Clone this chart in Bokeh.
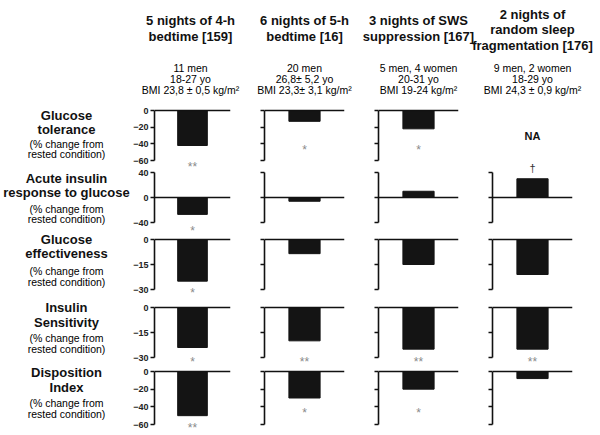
from bokeh.plotting import figure
from bokeh.models import Range1d, FactorRange, Span, FixedTicker
from bokeh.layouts import row, column
from bokeh.embed import file_html
from bokeh.resources import INLINE
from bokeh.core.properties import value

# ---------------- data ----------------
study_titles = [
    ["5 nights of 4-h", "bedtime [159]"],
    ["6 nights of 5-h", "bedtime [16]"],
    ["3 nights of SWS", "suppression [167]"],
    ["2 nights of", "random sleep", "fragmentation [176]"],
]
study_subjects = [
    ["11 men", "18-27 yo", "BMI 23,8 ± 0,5 kg/m²"],
    ["20 men", "26,8± 5,2 yo", "BMI 23,3± 3,1 kg/m²"],
    ["5 men, 4 women", "20-31 yo", "BMI 19-24 kg/m²"],
    ["9 men, 2 women", "18-29 yo", "BMI 24,3 ± 0,9 kg/m²"],
]
outcome_names = [
    ["Glucose", "tolerance"],
    ["Acute insulin", "response to glucose"],
    ["Glucose", "effectiveness"],
    ["Insulin", "Sensitivity"],
    ["Disposition", "Index"],
]
unit_note = ["(% change from", "rested condition)"]

# % change from rested condition (None = not available)
glucose_tolerance = [-42, -13, -22, None]
acute_insulin_response = [-27, -6, 10, 30]
glucose_effectiveness = [-25, -8.5, -15, -21]
insulin_sensitivity = [-24, -20, -25, -25]
disposition_index = [-50, -30, -20, -8]

# significance marks and where they sit (in each panel's % units)
sig_glucose_tolerance = ["**", "*", "*", ""]
sig_acute_insulin = ["*", "", "", "†"]
sig_glucose_effectiveness = ["*", "", "", ""]
sig_insulin_sensitivity = ["*", "**", "**", "**"]
sig_disposition_index = ["**", "*", "*", ""]

mark_glucose_tolerance = [-64, -44, -44, None]
mark_acute_insulin = [-48, None, None, 48]
mark_glucose_effectiveness = [-30, None, None, None]
mark_insulin_sensitivity = [-30.6, -30.6, -30.6, -30.6]
mark_disposition_index = [-61, -44, -44, None]

# y-axis ticks per outcome
ticks_glucose_tolerance = [0, -20, -40, -60]
ticks_acute_insulin = [40, 0, -40]
ticks_glucose_effectiveness = [0, -15, -30]
ticks_insulin_sensitivity = [0, -15, -30]
ticks_disposition_index = [0, -20, -40, -60]

values = [glucose_tolerance, acute_insulin_response, glucose_effectiveness,
          insulin_sensitivity, disposition_index]
sigs = [sig_glucose_tolerance, sig_acute_insulin, sig_glucose_effectiveness,
        sig_insulin_sensitivity, sig_disposition_index]
marks = [mark_glucose_tolerance, mark_acute_insulin, mark_glucose_effectiveness,
         mark_insulin_sensitivity, mark_disposition_index]
ticks = [ticks_glucose_tolerance, ticks_acute_insulin, ticks_glucose_effectiveness,
         ticks_insulin_sensitivity, ticks_disposition_index]

# ---------------- layout (pixels) ----------------
FONT = value("Liberation Sans")
LABEL_W = 130
BORDER_L = [20, 24, 24, 24]
BORDER_R = 10
FRAME_W = 80
TOP = 102          # header height / top of the panel grid
HEADER_W = 600
bounds = [102, 168, 232, 300, 364, 435]
EXT = 10           # panels overlap their neighbours by 2*EXT (transparent canvases)
axis_top = [110, 172, 239, 307, 371]
axis_bot = [160, 222, 289, 357, 424]
label_y = [[115, 129, 143, 153], [178, 192, 208, 218], [239, 253, 270, 281],
           [307, 322, 337, 348], [372, 387, 402, 413]]
LABEL_X = 66

col_w = [BORDER_L[c] + FRAME_W + BORDER_R for c in range(4)]
centers = []
acc = LABEL_W
for c in range(4):
    centers.append(acc + BORDER_L[c] + FRAME_W / 2)
    acc += col_w[c]


def blank(width, height, y0, y1, x1):
    f = figure(width=width, height=height, x_range=Range1d(0, x1), y_range=Range1d(y0, y1),
               output_backend="svg", toolbar_location=None,
               x_axis_location=None, y_axis_location=None,
               min_border_left=0, min_border_right=0, min_border_top=0, min_border_bottom=0)
    f.grid.visible = False
    f.outline_line_color = None
    f.background_fill_color = "white"
    f.border_fill_color = "white"
    return f


# header
header = blank(HEADER_W, TOP, TOP, 0, HEADER_W)
for c in range(4):
    lines = study_titles[c]
    ys = [20, 35.5] if len(lines) == 2 else [13.5, 29, 44.5]
    header.text(x=[centers[c]] * len(lines), y=ys, text=lines, text_font=FONT,
                text_font_size="13px", text_font_style="bold", text_color="#111111",
                text_align="center", text_baseline="middle")
    header.text(x=[centers[c]] * 3, y=[67, 78, 89], text=study_subjects[c], text_font=FONT,
                text_font_size="10.5px", text_color="#000000",
                text_align="center", text_baseline="middle")

# row labels
LAB_H = bounds[-1] - TOP
labels = blank(LABEL_W, LAB_H, LAB_H, 0, LABEL_W)
for r in range(5):
    ys = [y - TOP for y in label_y[r]]
    labels.text(x=[LABEL_X, LABEL_X], y=ys[:2], text=outcome_names[r], text_font=FONT,
                text_font_size="13px", text_font_style="bold", text_color="#111111",
                text_align="center", text_baseline="middle")
    labels.text(x=[LABEL_X, LABEL_X], y=ys[2:], text=unit_note, text_font=FONT,
                text_font_size="10.5px", text_color="#000000",
                text_align="center", text_baseline="middle")

# panels
stacks = []
for c in range(4):
    study = " ".join(study_titles[c])
    figs = []
    for r in range(5):
        top = bounds[r] - (EXT if r > 0 else 0)
        bot = bounds[r + 1] + (EXT if r < 4 else 0)
        amin, amax = min(ticks[r]), max(ticks[r])
        s = (axis_bot[r] - axis_top[r]) / (amax - amin)
        y_lo = amin - (bot - axis_bot[r]) / s
        y_hi = amax + (axis_top[r] - top) / s
        v = values[r][c]
        p = figure(width=col_w[c], height=bot - top, x_range=FactorRange(factors=[study]),
                   y_range=Range1d(y_lo, y_hi), output_backend="svg", toolbar_location=None,
                   x_axis_location=None, y_axis_location="left" if v is not None else None,
                   min_border_left=BORDER_L[c], min_border_right=BORDER_R,
                   min_border_top=0, min_border_bottom=0,
                   margin=(-2 * EXT if r > 0 else 0, 0, 0, 0))
        p.grid.visible = False
        p.outline_line_color = None
        p.background_fill_color = None
        p.border_fill_color = None
        if v is None:
            p.text(x=[study], y=[(amin + amax) / 2], text=["NA"], text_font=FONT,
                   text_font_size="11px", text_font_style="bold", text_color="#111111",
                   text_align="center", text_baseline="middle")
        else:
            ax = p.yaxis[0]
            ax.ticker = FixedTicker(ticks=ticks[r])
            ax.bounds = (amin, amax)
            ax.axis_line_width = 1.6
            ax.axis_line_color = "#111111"
            ax.major_tick_line_width = 1.4
            ax.major_tick_line_color = "#111111"
            ax.major_tick_in = 0
            ax.major_tick_out = 4
            ax.minor_tick_line_color = None
            ax.major_label_standoff = 2
            ax.major_label_text_font = "Liberation Sans"
            ax.major_label_text_font_style = "bold"
            ax.major_label_text_font_size = "9px"
            ax.major_label_text_color = "#222222" if c == 0 else None
            p.add_layout(Span(location=0, dimension="width", line_color="#111111", line_width=1.6))
            p.vbar(x=[study], top=[v], bottom=0, width=0.39,
                   fill_color="#141414", line_color="#141414")
        sg, mk = sigs[r][c], marks[r][c]
        if sg and mk is not None:
            if sg == "†":
                p.text(x=[study], y=[mk], text=[sg], text_font=FONT, text_font_size="11px",
                       text_color="#333333", text_align="center", text_baseline="middle")
            else:
                p.text(x=[study], y=[mk], text=[sg], text_font=FONT, text_font_size="12px",
                       text_color="#8a8a8a", text_align="center", text_baseline="middle",
                       y_offset=3)
        figs.append(p)
    stacks.append(column(*figs))

layout = column(header, row(labels, *stacks))

open("out.html", "w").write(file_html(layout, INLINE))
